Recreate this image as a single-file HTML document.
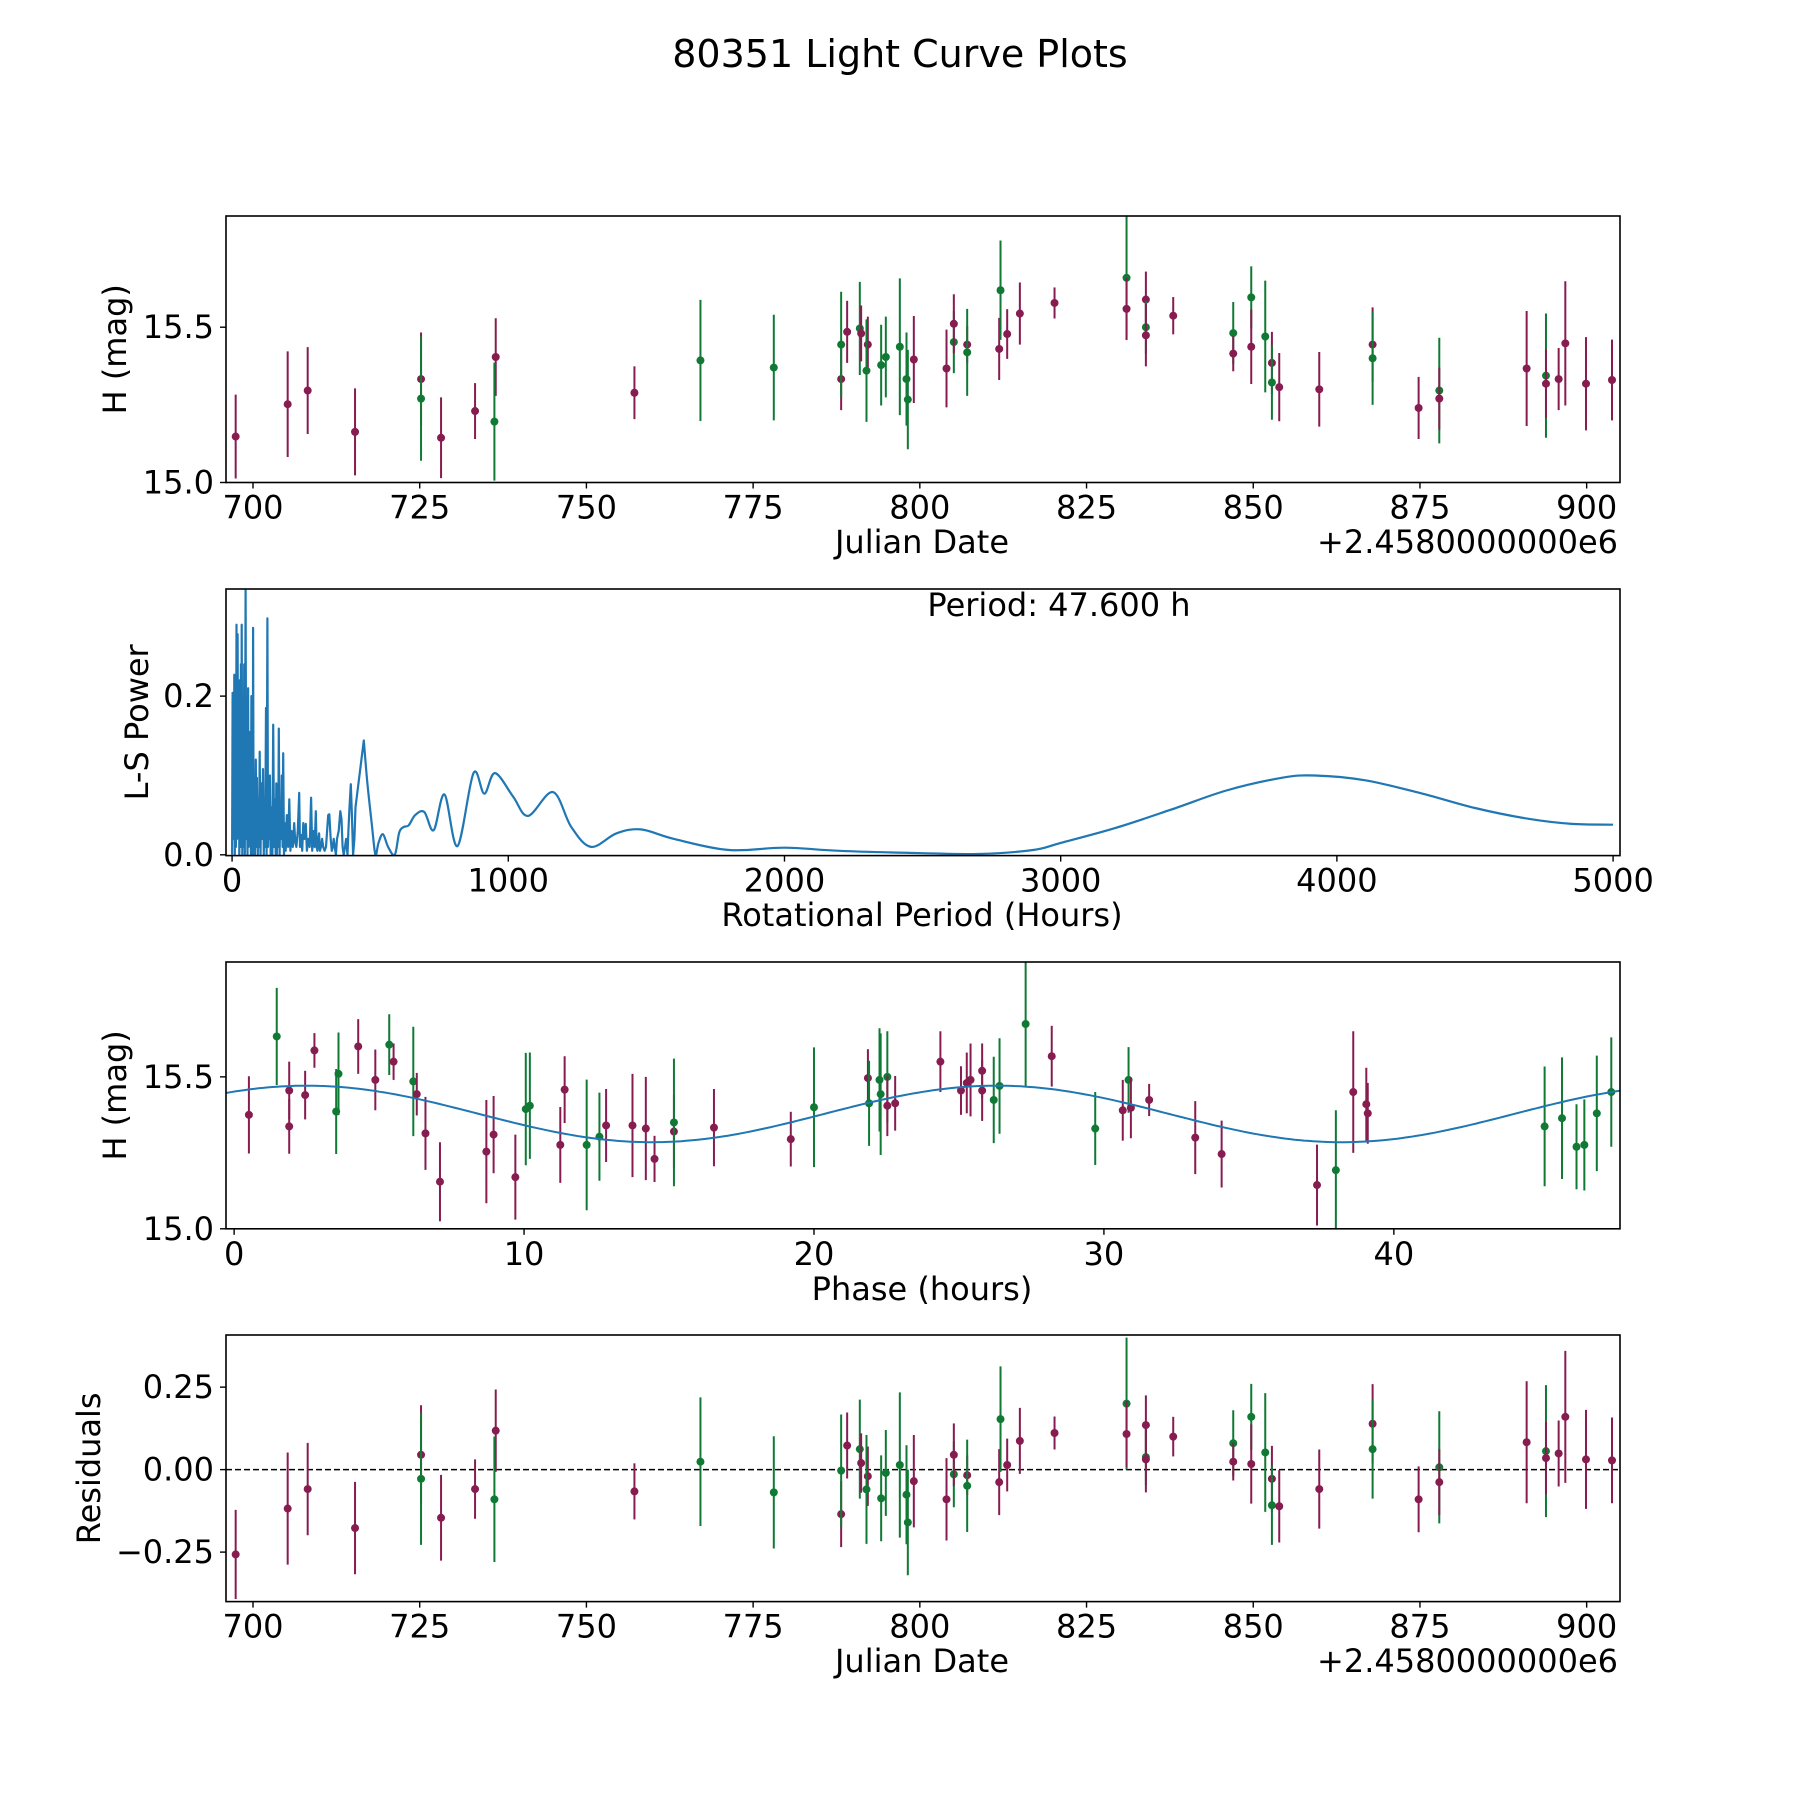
<!DOCTYPE html>
<html><head><meta charset="utf-8"><style>
html,body{margin:0;padding:0;background:#fff;}
svg{display:block;font-family:"DejaVu Sans","Liberation Sans",sans-serif;}
</style></head><body>
<svg id="fig" width="1800" height="1800" viewBox="0 0 1800 1800" xmlns="http://www.w3.org/2000/svg">
<rect width="1800" height="1800" fill="#fff"/>
<text x="900" y="67" font-size="38" text-anchor="middle">80351 Light Curve Plots</text>
</svg>
<script>
// ---- Panel 1 / 4 data (Julian date offset, mag, error, filter colour, residual) ----
const dates = [697.4,705.2,708.2,715.3,725.2,725.2,728.2,733.3,736.4,736.2,757.2,767.1,778.1,788.2,788.2,789.1,791.0,791.2,792.2,792.0,794.2,794.9,797.0,798.0,798.2,799.1,804.0,805.1,805.1,807.1,807.1,811.9,812.1,813.1,815.0,820.2,831.0,831.0,833.9,833.9,833.9,838.0,847.0,847.0,849.7,849.7,851.8,852.8,852.8,853.9,859.9,867.9,867.9,874.8,877.9,877.9,891.0,893.9,893.9,895.8,896.8,899.9,903.8];
const mags = [15.148,15.252,15.296,15.163,15.333,15.27,15.144,15.23,15.404,15.196,15.289,15.393,15.37,15.333,15.444,15.485,15.496,15.48,15.444,15.36,15.378,15.404,15.437,15.333,15.267,15.396,15.367,15.452,15.511,15.444,15.419,15.43,15.619,15.478,15.544,15.578,15.659,15.559,15.589,15.5,15.474,15.537,15.481,15.415,15.596,15.437,15.47,15.385,15.322,15.307,15.3,15.444,15.4,15.24,15.296,15.27,15.367,15.344,15.318,15.333,15.448,15.318,15.33];
const errs = [0.135,0.17,0.14,0.14,0.15,0.2,0.13,0.09,0.125,0.19,0.085,0.195,0.17,0.1,0.17,0.1,0.15,0.09,0.09,0.165,0.13,0.13,0.22,0.15,0.16,0.14,0.125,0.1,0.095,0.06,0.14,0.1,0.16,0.08,0.1,0.05,0.2,0.1,0.09,0.085,0.1,0.06,0.1,0.057,0.1,0.12,0.18,0.1,0.12,0.11,0.12,0.12,0.15,0.1,0.17,0.1,0.185,0.2,0.11,0.1,0.2,0.15,0.13];
const filters = ['p','p','p','p','p','g','p','p','p','g','p','g','g','p','g','p','g','p','p','g','g','g','g','g','g','p','p','g','p','p','g','p','g','p','p','p','g','p','p','g','p','p','g','p','g','p','g','p','g','p','p','p','g','p','g','p','p','g','p','p','p','p','p'];
const residuals = [-0.257,-0.118,-0.059,-0.177,0.045,-0.028,-0.146,-0.059,0.118,-0.09,-0.066,0.024,-0.069,-0.135,-0.003,0.073,0.062,0.02,-0.02,-0.06,-0.087,-0.01,0.014,-0.076,-0.16,-0.035,-0.09,-0.014,0.045,-0.017,-0.049,-0.038,0.153,0.014,0.087,0.111,0.2,0.108,0.135,0.038,0.031,0.1,0.08,0.024,0.16,0.017,0.052,-0.028,-0.108,-0.111,-0.059,0.139,0.062,-0.09,0.007,-0.038,0.083,0.056,0.035,0.049,0.16,0.031,0.028];
// ---- Panel 3 data (phase-folded) ----
const phases = [0.51,1.47,1.9,1.9,2.45,2.77,3.52,3.6,4.28,4.87,5.35,5.5,6.18,6.3,6.6,7.1,8.7,8.95,9.7,10.06,10.2,11.25,11.4,12.16,12.6,12.83,13.74,14.2,14.5,15.17,15.17,16.55,19.2,20.0,21.86,21.9,22.26,22.3,22.53,22.53,22.8,24.36,25.07,25.27,25.4,25.8,25.8,26.2,26.4,27.3,28.2,29.7,30.65,30.85,30.93,31.56,33.15,34.06,37.35,38.0,38.6,39.05,39.1,45.2,45.8,46.3,46.57,47.0,47.5];
const phaseMags = [15.375,15.633,15.455,15.337,15.44,15.587,15.386,15.51,15.6,15.49,15.606,15.55,15.485,15.443,15.314,15.155,15.254,15.31,15.17,15.394,15.405,15.276,15.458,15.276,15.303,15.34,15.34,15.33,15.23,15.32,15.35,15.333,15.295,15.4,15.496,15.413,15.49,15.443,15.5,15.405,15.413,15.55,15.455,15.48,15.49,15.52,15.455,15.424,15.47,15.674,15.568,15.33,15.39,15.49,15.398,15.424,15.3,15.246,15.144,15.193,15.45,15.41,15.38,15.337,15.364,15.27,15.276,15.38,15.45];
const phaseErrs = [0.127,0.16,0.095,0.09,0.08,0.057,0.14,0.136,0.09,0.1,0.1,0.06,0.18,0.07,0.12,0.13,0.17,0.127,0.14,0.185,0.175,0.125,0.11,0.215,0.145,0.12,0.17,0.17,0.076,0.12,0.21,0.127,0.09,0.197,0.095,0.14,0.17,0.2,0.15,0.1,0.09,0.1,0.08,0.1,0.12,0.09,0.1,0.142,0.157,0.204,0.1,0.12,0.1,0.108,0.1,0.053,0.12,0.11,0.133,0.197,0.2,0.12,0.1,0.197,0.2,0.14,0.15,0.19,0.18];
const phaseFilters = ['p','g','p','p','p','p','g','g','p','p','g','p','g','p','p','p','p','p','p','g','g','p','p','g','g','p','p','p','p','p','g','p','p','g','p','g','g','g','g','p','p','p','p','p','p','p','p','g','g','g','p','g','p','g','p','p','p','p','p','g','p','p','p','g','g','g','g','g','g'];
const modelMean = [15.378];
const modelAmp = [0.093];
const modelPeak = [2.5];
const modelCycle = [23.8];
// ---- Panel 2 data (Lomb-Scargle periodogram) ----
const lsSpikyPeriod = [0,2,3,5,6,8,10,12,14,16,18,20,22,24,26,28,30,32,34,35,37,40,42,44,46,49,51,53,56,58,60,62,64,66,68,70,72,73,75,76,78,80,83,86,88,90,93,95,98,100,103,106,109,112,115,117,120,123,125,128,130,132,135,137,140,142,146,149,152,155,158,160,162,164,167,169,172,174,177,180,183,185,188,190,194,198,203,207,211,215,220,225,229,233,238,243,246,250,254,258,262,267,271,276,281,286,290,295,299,303,306,309,312,315,318,322,326,330,335,340,344,348,352,357,361,365,368,372,376,380,386,392,396,400,404,409,413,418,421,425,430,434,438,443,447,452,457,462];
const lsSpikyPower = [0.0,0.204,0.02,0.15,0.03,0.227,0.0,0.12,0.01,0.29,0.02,0.278,0.03,0.2,0.0,0.22,0.01,0.24,0.02,0.29,0.0,0.2,0.01,0.24,0.0,0.335,0.02,0.18,0.0,0.21,0.01,0.1,0.02,0.155,0.0,0.2,0.03,0.11,0.0,0.286,0.02,0.08,0.0,0.12,0.01,0.097,0.0,0.07,0.01,0.13,0.0,0.09,0.02,0.108,0.0,0.06,0.01,0.185,0.0,0.298,0.01,0.05,0.02,0.1,0.0,0.06,0.0,0.164,0.01,0.07,0.0,0.09,0.0,0.04,0.01,0.159,0.0,0.05,0.02,0.1,0.01,0.128,0.0,0.04,0.005,0.05,0.01,0.07,0.005,0.03,0.01,0.04,0.015,0.01,0.03,0.078,0.01,0.025,0.005,0.04,0.02,0.039,0.005,0.02,0.01,0.072,0.005,0.03,0.01,0.055,0.01,0.005,0.02,0.027,0.005,0.01,0.02,0.01,0.005,0.01,0.03,0.05,0.051,0.02,0.005,0.01,0.02,0.01,0.0,0.02,0.03,0.055,0.045,0.01,0.0,0.01,0.02,0.0,0.03,0.06,0.089,0.05,0.0,0.02,0.06];
const lsSmoothPeriod = [477,490,507,519,530,546,565,589,605,621,639,663,696,730,769,816,874,913,952,1018,1072,1162,1228,1300,1391,1480,1600,1800,2000,2200,2500,2700,2900,3000,3200,3400,3600,3800,3920,4100,4300,4500,4700,4850,5000];
const lsSmoothPower = [0.144,0.09,0.035,0.0,0.015,0.026,0.01,0.0,0.028,0.035,0.037,0.05,0.054,0.031,0.076,0.011,0.103,0.077,0.103,0.073,0.049,0.079,0.035,0.01,0.027,0.032,0.02,0.006,0.009,0.005,0.002,0.001,0.006,0.015,0.034,0.057,0.081,0.097,0.1,0.094,0.078,0.059,0.045,0.039,0.038];
const jdTicks = [700,725,750,775,800,825,850,875,900];
const magTicks = [15.0,15.5];
const lsXTicks = [0,1000,2000,3000,4000,5000];
const lsYTicks = [0.0,0.2];
const phaseTicks = [0,10,20,30,40];
const resTicks = [-0.25,0.0,0.25];

const NS='http://www.w3.org/2000/svg';
const svg=document.getElementById('fig');
const COL={p:'#871c50',g:'#107a35'};
function mk(tag,attrs,parent){const e=document.createElementNS(NS,tag);for(const k in attrs)e.setAttribute(k,attrs[k]);(parent||svg).appendChild(e);return e;}
function scale(d0,d1,r0,r1){return v=>r0+(v-d0)*(r1-r0)/(d1-d0);}
const L=226,R=1620;
const P1={top:216,bot:482.5}, P2={top:589,bot:855.6}, P3={top:962,bot:1228.8}, P4={top:1335,bot:1601.6};
const x1=scale(695.95,905,L,R), y1=scale(15.0,15.858,P1.bot,P1.top);
const x2=scale(-22,5025,L,R), y2=scale(-0.001,0.335,P2.bot,P2.top);
const x3=scale(-0.28,47.8,L,R), y3=scale(15.0,15.878,P3.bot,P3.top);
const y4=scale(-0.40,0.408,P4.bot,P4.top);

function frame(P,name){
  const g=mk('g',{});
  
  
  const c=mk('clipPath',{id:'clip-'+name},g);
  mk('rect',{x:L,y:P.top,width:R-L,height:P.bot-P.top},c);
  const inner=mk('g',{'clip-path':'url(#clip-'+name+')'},g);
  return {g,inner};
}
function border(g,P){
  const r=mk('rect',{x:L,y:P.top,width:R-L,height:P.bot-P.top,fill:'none',stroke:'#000','stroke-width':1.6},g);
  
  
}
function xTicks(g,P,ticks,sx,fmt){
  ticks.forEach(t=>{const x=sx(t);
    mk('line',{x1:x,x2:x,y1:P.bot,y2:P.bot+6,stroke:'#000','stroke-width':1.4},g);
    const tx=mk('text',{x:x,y:P.bot+36,'font-size':32,'text-anchor':'middle'},g);
    
    
    tx.textContent=fmt(t);});
}
function yTicks(g,P,ticks,sy,fmt){
  ticks.forEach(t=>{const y=sy(t);
    mk('line',{x1:L,x2:L-6,y1:y,y2:y,stroke:'#000','stroke-width':1.4},g);
    const tx=mk('text',{x:L-12,y:y+11,'font-size':32,'text-anchor':'end'},g);
    
    
    tx.textContent=fmt(t);});
}
function label(g,txt,x,y,rot,name,anchor){
  const t=mk('text',{x:x,y:y,'font-size':32,'text-anchor':anchor||'middle'},g);
  if(rot)t.setAttribute('transform','rotate(-90 '+x+' '+y+')');
  
  
  t.textContent=txt;
}
function errPoint(g,x,yc,ylo,yhi,c){
  mk('line',{x1:x,x2:x,y1:ylo,y2:yhi,stroke:c,'stroke-width':2},g);
  const d=mk('circle',{cx:x,cy:yc,r:4,fill:c},g);
  
  
}
const negFmt=v=>(v<0?'\u2212':'')+Math.abs(v).toFixed(2);

// Panel 1
let f=frame(P1,'light-curve-panel');
dates.forEach((d,i)=>errPoint(f.inner,x1(d),y1(mags[i]),y1(mags[i]-errs[i]),y1(mags[i]+errs[i]),COL[filters[i]]));
border(f.g,P1);
xTicks(f.g,P1,jdTicks,x1,v=>String(v));
yTicks(f.g,P1,magTicks,y1,v=>v.toFixed(1));
label(f.g,'Julian Date',922,553,false,'x-axis-title');
label(f.g,'+2.4580000000e6',1618,553,false,'x-offset-label','end');
label(f.g,'H (mag)',126,(P1.top+P1.bot)/2,true,'y-axis-title');

// Panel 2
f=frame(P2,'periodogram-panel');
const nSp=Math.min(lsSpikyPeriod.length,lsSpikyPower.length);
const spiky=[];
for(let i=0;i<nSp;i++){spiky.push(x2(lsSpikyPeriod[i]).toFixed(1)+','+y2(lsSpikyPower[i]).toFixed(1));}
let d='M'+spiky.join(' L');
const nSm=Math.min(lsSmoothPeriod.length,lsSmoothPower.length);
const sp=[];
for(let i=0;i<nSm;i++){sp.push([x2(lsSmoothPeriod[i]),y2(lsSmoothPower[i])]);}
d+=' L'+sp[0][0].toFixed(1)+','+sp[0][1].toFixed(1);
for(let i=0;i<sp.length-1;i++){
  const p0=sp[Math.max(0,i-1)],p1=sp[i],p2=sp[i+1],p3=sp[Math.min(sp.length-1,i+2)];
  const c1=[p1[0]+(p2[0]-p0[0])/6,p1[1]+(p2[1]-p0[1])/6];
  const c2=[p2[0]-(p3[0]-p1[0])/6,p2[1]-(p3[1]-p1[1])/6];
  d+=' C'+c1[0].toFixed(1)+','+c1[1].toFixed(1)+' '+c2[0].toFixed(1)+','+c2[1].toFixed(1)+' '+p2[0].toFixed(1)+','+p2[1].toFixed(1);
}
const pl=mk('path',{d:d,fill:'none',stroke:'#1f77b4','stroke-width':2.2,'stroke-linejoin':'round'},f.inner);


border(f.g,P2);
xTicks(f.g,P2,lsXTicks,x2,v=>String(v));
yTicks(f.g,P2,lsYTicks,y2,v=>v.toFixed(1));
label(f.g,'Rotational Period (Hours)',922,926,false,'x-axis-title');
label(f.g,'L-S Power',148,(P2.top+P2.bot)/2,true,'y-axis-title');
label(f.g,'Period: 47.600 h',1059,616,false,'period-annotation');

// Panel 3
f=frame(P3,'phase-folded-panel');
phases.forEach((p,i)=>errPoint(f.inner,x3(p),y3(phaseMags[i]),y3(phaseMags[i]-phaseErrs[i]),y3(phaseMags[i]+phaseErrs[i]),COL[phaseFilters[i]]));
let mpts=[];for(let k=0;k<=300;k++){const p=-0.28+k*(48.08/300);mpts.push(x3(p).toFixed(1)+','+y3(modelMean[0]+modelAmp[0]*Math.cos(2*Math.PI*(p-modelPeak[0])/modelCycle[0])).toFixed(1));}
const ml=mk('polyline',{points:mpts.join(' '),fill:'none',stroke:'#1f77b4','stroke-width':2},f.inner);


border(f.g,P3);
xTicks(f.g,P3,phaseTicks,x3,v=>String(v));
yTicks(f.g,P3,magTicks,y3,v=>v.toFixed(1));
label(f.g,'Phase (hours)',922,1300,false,'x-axis-title');
label(f.g,'H (mag)',126,(P3.top+P3.bot)/2,true,'y-axis-title');

// Panel 4
f=frame(P4,'residuals-panel');
const zl=mk('line',{x1:L,x2:R,y1:y4(0),y2:y4(0),stroke:'#000','stroke-width':1.6,'stroke-dasharray':'6,3'},f.inner);


dates.forEach((d,i)=>errPoint(f.inner,x1(d),y4(residuals[i]),y4(residuals[i]-errs[i]),y4(residuals[i]+errs[i]),COL[filters[i]]));
border(f.g,P4);
xTicks(f.g,P4,jdTicks,x1,v=>String(v));
yTicks(f.g,P4,resTicks,y4,negFmt);
label(f.g,'Julian Date',922,1672,false,'x-axis-title');
label(f.g,'+2.4580000000e6',1618,1672,false,'x-offset-label','end');
label(f.g,'Residuals',100,(P4.top+P4.bot)/2,true,'y-axis-title');
</script>
</body></html>
